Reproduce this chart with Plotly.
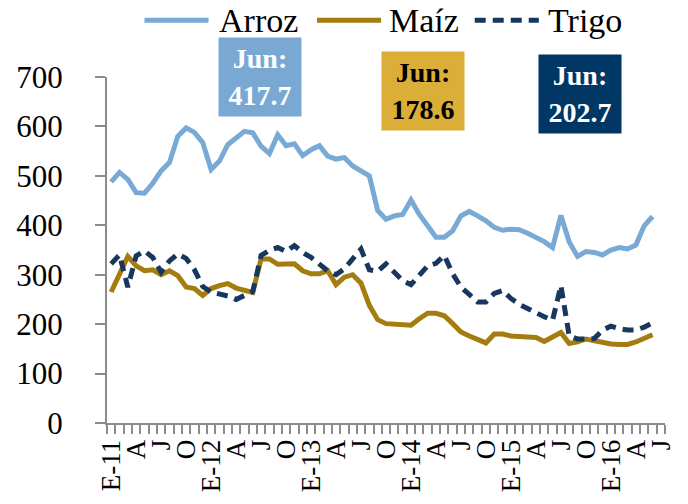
import plotly.graph_objects as go

# Monthly price indices, Jan 2011 - Jun 2016
arroz = [488, 507, 493, 466, 465, 485, 510, 527, 580, 597, 588, 567,
         513, 530, 563, 577, 590, 587, 560, 545, 583, 561, 565, 541,
         553, 561, 540, 534, 537, 520, 511, 500, 430, 412, 419, 422,
         451, 422, 399, 376, 376, 389, 419, 428, 419, 409, 396, 390,
         392, 391, 384, 376, 367, 355, 420, 366, 337, 347, 345, 340,
         350, 355, 352, 360, 399, 417.7]
maiz = [265, 302, 337, 318, 308, 310, 300, 308, 298, 275, 272, 258,
        272, 278, 282, 273, 268, 264, 332, 332, 321, 322, 322, 308,
        302, 302, 308, 280, 295, 300, 283, 238, 209, 201, 200, 198,
        198, 211, 222, 222, 217, 201, 184, 176, 168, 162, 180, 180,
        176, 176, 174, 173, 165, 174, 183, 161, 164, 170, 166, 162,
        160, 159, 159, 164, 170, 178.6]
trigo = [322, 340, 275, 338, 348, 335, 305, 328, 342, 333, 310, 276,
         265, 262, 257, 250, 258, 266, 339, 349, 355, 347, 359, 345,
         335, 322, 308, 300, 312, 332, 352, 310, 307, 322, 305, 288,
         280, 298, 318, 323, 339, 302, 275, 260, 245, 245, 262, 268,
         252, 240, 231, 224, 215, 208, 278, 176, 170, 170, 171, 188,
         196, 191, 188, 188, 194, 202.7]

# Quarterly axis labels (E = enero, A = abril, J = julio, O = octubre)
tick_labels = ["E-11", "A", "J", "O", "E-12", "A", "J", "O",
               "E-13", "A", "J", "O", "E-14", "A", "J", "O",
               "E-15", "A", "J", "O", "E-16", "A", "J"]
n_months = 67  # Jan 2011 .. Jul 2016 on the category axis

series_names = ["Arroz", "Maíz", "Trigo"]
line_colors = ["#79AAD5", "#A57C0F", "#17375E"]
box_colors = ["#79A9D3", "#DBAE37", "#003764"]
box_text_colors = ["white", "black", "white"]
last_values = [arroz[-1], maiz[-1], trigo[-1]]

FONT = "Liberation Serif"
W, H = 688, 504
ML, MR, MT, MB = 107, 15, 77, 79
PW, PH = W - ML - MR, H - MT - MB
LW = 5
DASH = "11px,7px"


def px_x(px):
    return (px - ML) / PW


def px_y(py):
    return (H - MB - py) / PH


fig = go.Figure()
x_idx = list(range(len(arroz)))
for name, ys, col, dash in zip(series_names, [arroz, maiz, trigo], line_colors,
                               ["solid", "solid", DASH]):
    fig.add_trace(go.Scatter(x=x_idx, y=ys, mode="lines", name=name,
                             line=dict(color=col, width=LW, dash=dash),
                             showlegend=False))

# Legend drawn along the top
legend_lines = [(145, 210), (320, 385), (480, 545)]
legend_text_x = [219, 391, 552]
shapes = []
annotations = []
for (x0, x1), tx, name, col, dash in zip(legend_lines, legend_text_x, series_names,
                                         line_colors, ["solid", "solid", DASH]):
    shapes.append(dict(type="line", xref="paper", yref="paper",
                       x0=px_x(x0), x1=px_x(x1), y0=px_y(20), y1=px_y(20),
                       line=dict(color=col, width=LW, dash=dash)))
    annotations.append(dict(xref="paper", yref="paper", x=px_x(tx), y=px_y(20),
                            xanchor="left", yanchor="middle", showarrow=False,
                            text=name, font=dict(family=FONT, size=34, color="black")))

# Boxes with the latest (June) value of each series
box_centers = [(262, 77.5), (427.5, 91.5), (586.5, 94.5)]
for (cx, cy), val, bg, fc in zip(box_centers, last_values, box_colors, box_text_colors):
    annotations.append(dict(xref="paper", yref="paper", x=px_x(cx), y=px_y(cy),
                            xanchor="center", yanchor="middle", showarrow=False,
                            text=f"<b>Jun:<br>{val:.1f}</b>",
                            width=82, height=78, borderpad=0, bgcolor=bg,
                            align="center",
                            font=dict(family=FONT, size=28, color=fc)))

fig.update_layout(
    width=W, height=H,
    margin=dict(l=ML, r=MR, t=MT, b=MB),
    paper_bgcolor="white", plot_bgcolor="white",
    font=dict(family=FONT, color="black"),
    shapes=shapes, annotations=annotations,
    xaxis=dict(range=[-0.5, n_months - 0.5],
               tickmode="array",
               tickvals=list(range(0, n_months, 3)),
               ticktext=tick_labels,
               tickangle=-90,
               ticks="", showgrid=False, zeroline=False,
               showline=True, linecolor="#8C8C8C", linewidth=2,
               ticklabelstandoff=4,
               tickfont=dict(family=FONT, size=27, color="black"),
               minor=dict(tickmode="linear", tick0=-0.5, dtick=1,
                          ticks="outside", ticklen=9, tickwidth=1.5,
                          tickcolor="#8C8C8C", showgrid=False)),
    yaxis=dict(range=[0, 700], tickmode="linear", tick0=0, dtick=100,
               ticks="outside", ticklen=10, tickwidth=1.5, tickcolor="#8C8C8C",
               showgrid=False, zeroline=False,
               showline=True, linecolor="#8C8C8C", linewidth=2,
               ticklabelstandoff=26,
               tickfont=dict(family=FONT, size=31, color="black")),
)

fig.write_html("out.html")
